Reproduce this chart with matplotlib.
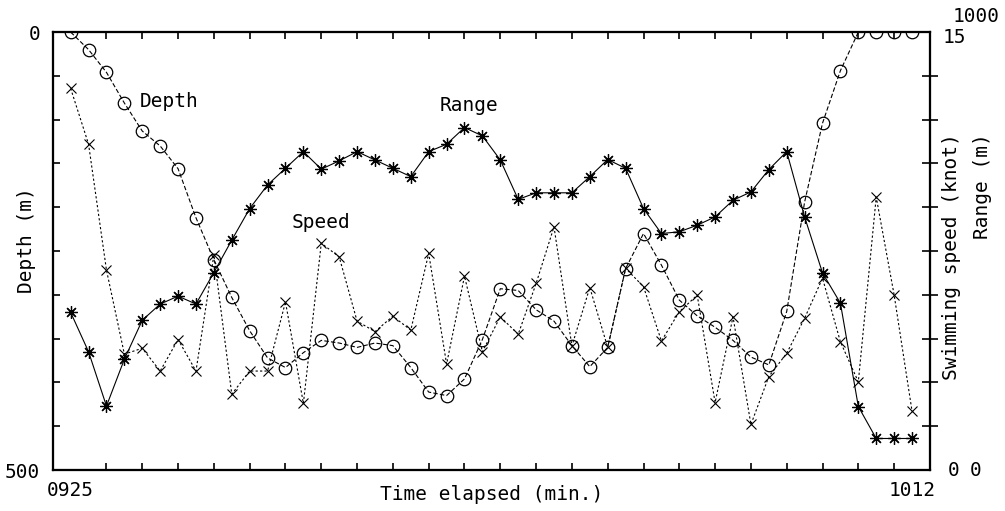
import matplotlib
matplotlib.use('Agg')
import matplotlib.pyplot as plt

plt.rcParams['font.family'] = ['DejaVu Sans Mono']
plt.rcParams['font.size'] = 14

# minutes elapsed since 09:25 (one reading per minute, to 10:12)
minutes = list(range(48))

# depth (m)
depth = [0, 20, 46, 81, 113, 130, 156, 212, 260, 303,
         341, 372, 383, 366, 352, 355, 360, 355, 358, 383,
         411, 415, 396, 351, 293, 295, 317, 330, 358, 382,
         360, 270, 230, 266, 306, 324, 337, 352, 371, 380,
         319, 194, 104, 44, 0, 0, 0, 0]

# swimming speed (knot)
speed = [13.07, 11.16, 6.85, 3.97, 4.17, 3.39, 4.47, 3.39, 7.36, 2.6,
         3.39, 3.39, 5.76, 2.28, 7.77, 7.3, 5.10, 4.74, 5.27, 4.79,
         7.42, 3.63, 6.64, 4.05, 5.25, 4.65, 6.39, 8.33, 4.25, 6.25,
         4.2, 6.91, 6.28, 4.42, 5.42, 5.99, 2.31, 5.25, 1.56, 3.2,
         4.0, 5.2, 6.57, 4.39, 3.02, 9.35, 6.0, 2.02]

# range (m)
range_m = [360, 270, 146, 253, 342, 379, 397, 379, 451, 525,
           597, 651, 689, 727, 687, 706, 727, 708, 689, 670,
           727, 744, 782, 763, 708, 618, 633, 633, 633, 670,
           709, 689, 597, 540, 544, 559, 578, 616, 635, 686,
           727, 578, 450, 381, 145, 72, 72, 72]

x_labels = ['0925', '1012']

fig = plt.figure(figsize=(10.05, 5.11), dpi=100)
ax = fig.add_axes([0.0525, 0.0802, 0.8728, 0.857])
ax2 = ax.twinx()
ax3 = ax.twinx()

# depth: open circles, dashed line
ax.plot(minutes, depth, color='black', lw=0.8, ls=(0, (4, 2)),
        marker='o', ms=9, mfc='none', mec='black', mew=0.9)
# speed: x marks, dotted line
ax2.plot(minutes, speed, color='black', lw=0.8, ls=(0, (2, 2)),
         marker='x', ms=7, mew=0.8)
# range: asterisks, solid line
ax3.plot(minutes, range_m, color='black', lw=0.8, ls='-',
         marker=(8, 2, 0), ms=9, mew=0.9)

ax.set_xlim(-1, 48)
ax.set_ylim(500, 0)
ax2.set_ylim(0, 15)
ax3.set_ylim(0, 1000)

for a in (ax, ax2, ax3):
    for s in a.spines.values():
        s.set_linewidth(1.5)

# x axis
ax.set_xticks([0, 47])
ax.set_xticklabels(x_labels)
ax.set_xticks(range(2, 47, 2), minor=True)
ax.tick_params(axis='x', which='major', length=0, pad=8)
ax.tick_params(axis='x', which='minor', direction='in', length=5,
               width=1.2, top=True, bottom=True)

# left axis (depth)
ax.set_yticks([0, 500])
ax.set_yticks(range(50, 500, 50), minor=True)
ax.tick_params(axis='y', which='major', length=0, pad=9)
ax.tick_params(axis='y', which='minor', direction='in', length=5, width=1.2)

# right axis ticks (speed scale)
ax2.set_yticks([])
ax2.set_yticks([1.5 * k for k in range(1, 10)], minor=True)
ax2.tick_params(axis='y', which='minor', direction='inout', length=12,
                width=1.2)
ax3.set_yticks([])

# right-hand scale labels
ax2.annotate('15', xy=(1, 15), xycoords=('axes fraction', 'data'),
             xytext=(9, -4), textcoords='offset points',
             ha='left', va='center')
ax2.annotate('0', xy=(1, 0), xycoords=('axes fraction', 'data'),
             xytext=(13, 0), textcoords='offset points',
             ha='left', va='center')
ax3.annotate('1000', xy=(1, 1000), xycoords=('axes fraction', 'data'),
             xytext=(16, 11), textcoords='offset points',
             ha='left', va='center')
ax3.annotate('0', xy=(1, 0), xycoords=('axes fraction', 'data'),
             xytext=(29, 0), textcoords='offset points',
             ha='left', va='center')

# axis titles
ax.text(-0.0300, 0.525, 'Depth (m)', transform=ax.transAxes,
        rotation=90, ha='center', va='center')
ax.text(0.5003, -0.057, 'Time elapsed (min.)', transform=ax.transAxes,
        ha='center', va='center')
ax.text(1.0250, 0.769, 'Swimming speed (knot)', transform=ax.transAxes,
        rotation=90, ha='center', va='top')
ax.text(1.0600, 0.769, 'Range (m)', transform=ax.transAxes,
        rotation=90, ha='center', va='top')

# series labels
ax.text(3.87, 85.6, 'Depth', ha='left', va='baseline')
ax.text(20.62, 90.2, 'Range', ha='left', va='baseline')
ax.text(12.33, 223.7, 'Speed', ha='left', va='baseline')

fig.savefig('out.png', dpi=100, facecolor='white')
